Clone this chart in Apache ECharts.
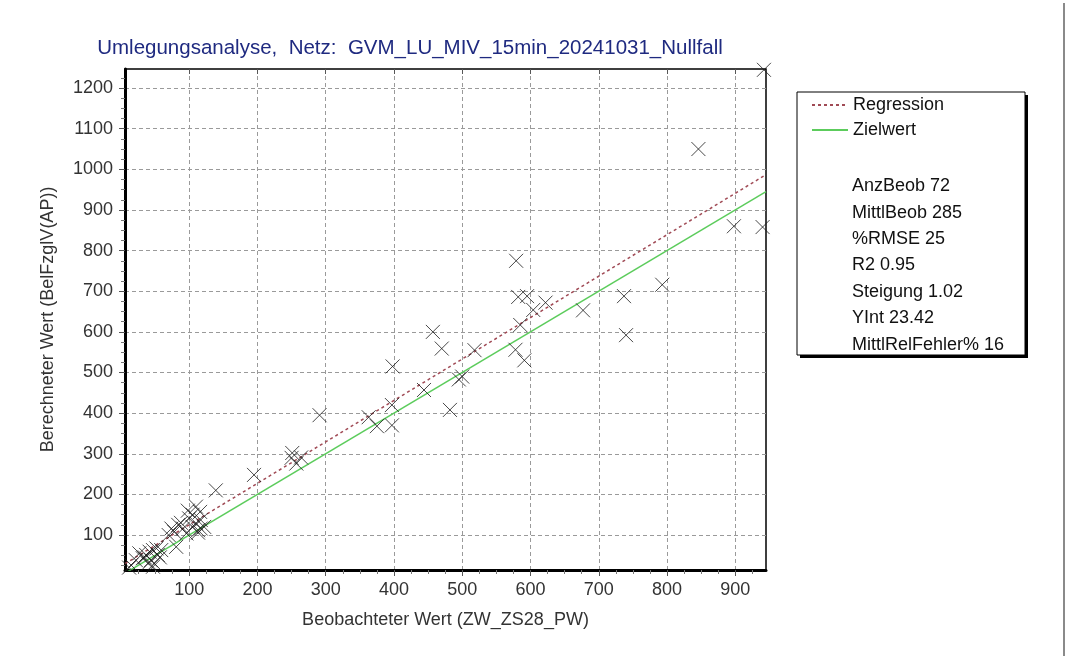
<!DOCTYPE html>
<html>
<head>
<meta charset="utf-8">
<script src="https://cdn.jsdelivr.net/npm/echarts@6/dist/echarts.min.js"></script>
<style>
html, body { margin: 0; padding: 0; background: #fff; }
#chart { width: 1066px; height: 656px; }
</style>
</head>
<body>
<div id="chart"></div>
<script>
// beobachtet / berechnet
let points = [
    [846, 1050], [898, 860], [940, 858], [942, 1245], [793, 716], [737, 688], [740, 592],
    [677, 653], [579, 775], [582, 686], [595, 688], [622, 672], [604, 654], [585, 617],
    [457, 600], [470, 559], [518, 555], [578, 556], [591, 530], [495, 483], [500, 490],
    [444, 457], [482, 408], [398, 515], [397, 420], [363, 390], [375, 368], [397, 370],
    [291, 395], [251, 302], [264, 291], [257, 276], [250, 290], [195, 248], [139, 210],
    [98, 160], [110, 170], [116, 157], [100, 141], [117, 137], [84, 125], [91, 116],
    [74, 116], [78, 108], [96, 104], [113, 112], [117, 116], [122, 120], [110, 129],
    [81, 71], [113, 106], [105, 150], [88, 130], [70, 100], [105, 120],
    [27, 55], [37, 51], [42, 59], [47, 63], [52, 67], [32, 43], [44, 38], [40, 30],
    [49, 30], [22, 38], [15, 26], [54, 51], [59, 63], [47, 22], [35, 45], [57, 45], [12, 20]
];
let regression = [[6, 29.5], [945, 987]];
let target = [[6, 6], [945, 945]];

let xRange = [6, 945];
let yRange = [14, 1247];
let xTicks = [100, 200, 300, 400, 500, 600, 700, 800, 900];
let yTicks = [100, 200, 300, 400, 500, 600, 700, 800, 900, 1000, 1100, 1200];
let xMinor = [25, 50, 75, 125, 150, 175, 225, 250, 275, 325, 350, 375, 425, 450, 475, 525, 550, 575,
    625, 650, 675, 725, 750, 775, 825, 850, 875, 925];
let yMinor = [25, 50, 75, 125, 150, 175, 225, 250, 275, 325, 350, 375, 425, 450, 475, 525, 550, 575,
    625, 650, 675, 725, 750, 775, 825, 850, 875, 925, 950, 975, 1025, 1050, 1075, 1125, 1150, 1175, 1225];

let statLabels = ['AnzBeob', 'MittlBeob', '%RMSE', 'R2', 'Steigung', 'YInt', 'MittlRelFehler%'];
let statValues = ['72', '285', '25', '0.95', '1.02', '23.42', '16'];

const FONT = 'Liberation Sans';

let chart = echarts.init(document.getElementById('chart'));

let dash = { type: [4, 3], color: '#9a9a9a', width: 1 };
let plain = v => String(v);

let option = {
    animation: false,
    backgroundColor: '#fff',
    textStyle: { fontFamily: FONT },
    title: {
        text: 'Umlegungsanalyse,  Netz:  GVM_LU_MIV_15min_20241031_Nullfall',
        left: 405,
        textAlign: 'center',
        top: 33,
        textStyle: { color: '#1f2a80', fontSize: 20.5, fontWeight: 'normal', fontFamily: FONT }
    },
    grid: {
        left: 125, top: 69, width: 641, height: 501,
        show: true, borderColor: '#000', borderWidth: 1.5, backgroundColor: '#fff'
    },
    legend: {
        orient: 'vertical',
        left: 806, top: 91,
        itemWidth: 36, itemHeight: 14, itemGap: 7,
        itemStyle: { opacity: 0 },
        textStyle: { fontSize: 18, color: '#111', fontFamily: FONT },
        data: ['Regression', 'Zielwert']
    },
    xAxis: [
        {
            type: 'value', min: xRange[0], max: xRange[1],
            name: 'Beobachteter Wert (ZW_ZS28_PW)', nameLocation: 'middle', nameGap: 41,
            nameTextStyle: { fontSize: 18, color: '#333', fontFamily: FONT },
            axisLine: { onZero: false, lineStyle: { color: '#000', width: 3 } },
            axisTick: { customValues: xTicks, length: 6, lineStyle: { color: '#555' } },
            axisLabel: { customValues: xTicks, formatter: plain, fontSize: 18, color: '#333', margin: 11 },
            splitLine: { show: true, lineStyle: dash }
        },
        {
            type: 'value', min: xRange[0], max: xRange[1], position: 'bottom',
            axisLine: { show: false },
            axisTick: { customValues: xMinor, length: 4, lineStyle: { color: '#777' } },
            axisLabel: { show: false },
            splitLine: { show: false }
        },
        {
            type: 'value', min: xRange[0], max: xRange[1], position: 'top',
            axisLine: { show: false },
            axisTick: { customValues: xTicks, inside: true, length: 5, lineStyle: { color: '#555' } },
            axisLabel: { show: false },
            splitLine: { show: false }
        }
    ],
    yAxis: [
        {
            type: 'value', min: yRange[0], max: yRange[1],
            name: 'Berechneter Wert (BelFzglV(AP))', nameLocation: 'middle', nameGap: 68,
            nameTextStyle: { fontSize: 18, color: '#333', fontFamily: FONT },
            axisLine: { onZero: false, lineStyle: { color: '#000', width: 3 } },
            axisTick: { customValues: yTicks, length: 6, lineStyle: { color: '#555' } },
            axisLabel: { customValues: yTicks, formatter: plain, fontSize: 18, color: '#333', margin: 12 },
            splitLine: { show: true, lineStyle: dash }
        },
        {
            type: 'value', min: yRange[0], max: yRange[1], position: 'left',
            axisLine: { show: false },
            axisTick: { customValues: yMinor, length: 4, lineStyle: { color: '#777' } },
            axisLabel: { show: false },
            splitLine: { show: false }
        }
    ],
    series: [
        {
            name: 'Beobachtung',
            type: 'scatter',
            symbol: 'path://M0,0L10,10M10,0L0,10',
            symbolSize: 14,
            itemStyle: { color: 'rgba(0,0,0,0)', borderColor: '#1a1a1a', borderWidth: 1 },
            z: 5,
            data: points
        },
        {
            name: 'Regression',
            type: 'line',
            showSymbol: false,
            symbol: 'none',
            lineStyle: { color: '#a04a55', width: 1.5, type: [3, 3] },
            itemStyle: { color: '#a04a55' },
            z: 3,
            data: regression
        },
        {
            name: 'Zielwert',
            type: 'line',
            showSymbol: false,
            symbol: 'none',
            lineStyle: { color: '#5ccc5c', width: 1.5 },
            itemStyle: { color: '#5ccc5c' },
            z: 3,
            data: target
        }
    ],
    graphic: [
        // legend box with shadow
        { type: 'rect', shape: { x: 800, y: 95, width: 228, height: 263 }, style: { fill: '#000' }, z: -2 },
        { type: 'rect', shape: { x: 797, y: 92, width: 228, height: 263 }, style: { fill: '#fff', stroke: '#000', lineWidth: 1 }, z: -1 },
        {
            type: 'text', left: 852, top: 173, z: 10,
            style: {
                text: statLabels.map((l, i) => l + ' ' + statValues[i]).join('\n'),
                fontSize: 18, lineHeight: 26.4, fill: '#111', fontFamily: FONT
            }
        },
        // right frame line
        { type: 'line', shape: { x1: 1064, y1: 3, x2: 1064, y2: 656 }, style: { stroke: '#8a8a8a', lineWidth: 2 } }
    ]
};

chart.setOption(option);
</script>
</body>
</html>
